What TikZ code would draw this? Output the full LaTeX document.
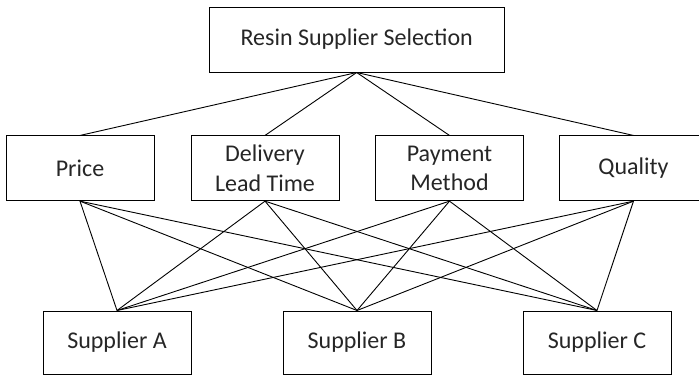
\documentclass[tikz,border=0pt]{standalone}
\usepackage{fontspec}
\setmainfont{Carlito}
\begin{document}
\begin{tikzpicture}[x=1pt,y=-1pt,
  box/.style={draw=black,line width=1pt,rectangle,inner sep=0pt,align=center,
    font=\fontsize{24}{29.3}\selectfont,text=black!85},
  link/.style={draw=black,line width=0.9pt}]
\useasboundingbox (0,0) rectangle (699,375);
\clip (0,0) rectangle (699,375);
\node[box,minimum width=295pt,minimum height=65pt] (top) at (356.7,39.5) {Resin Supplier Selection};
\node[box,minimum width=148pt,minimum height=64.7pt] (price) at (80,168.3) {Price};
\node[box,minimum width=148pt,minimum height=64.7pt] (deliv) at (265,168.3) {Delivery\\Lead Time};
\node[box,minimum width=148pt,minimum height=64.7pt] (pay) at (449.5,168.3) {Payment\\Method};
\node[box,minimum width=148pt,minimum height=64.7pt] (qual) at (633.5,168.3) {Quality};
\node[box,minimum width=148pt,minimum height=63pt] (sa) at (117,342.5) {Supplier A};
\node[box,minimum width=148pt,minimum height=63pt] (sb) at (357,342.5) {Supplier B};
\node[box,minimum width=148pt,minimum height=63pt] (sc) at (597,342.5) {Supplier C};
\foreach \m in {price,deliv,pay,qual} {
  \draw[link] (top.south) -- (\m.north);
  \foreach \s in {sa,sb,sc} {
    \draw[link] (\m.south) -- (\s.north);
  }
}
\end{tikzpicture}
\end{document}
